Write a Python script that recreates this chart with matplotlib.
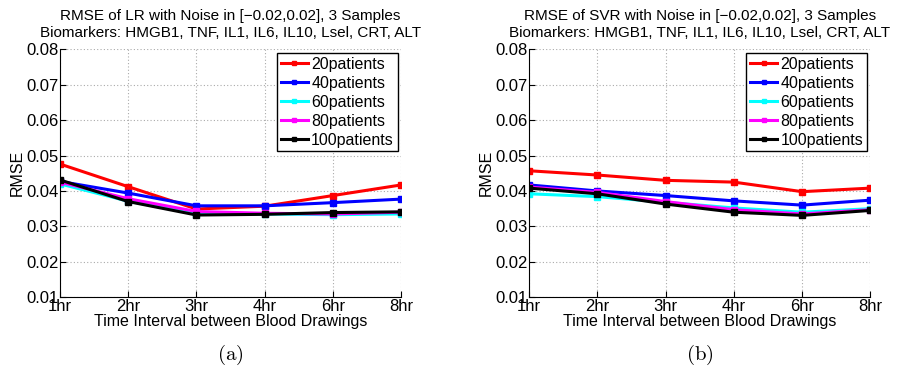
import numpy as np
import matplotlib.pyplot as plt

plt.rcParams['font.family'] = ['Liberation Sans', 'DejaVu Sans']
plt.rcParams['mathtext.fontset'] = 'cm'

hours = ['1hr', '2hr', '3hr', '4hr', '6hr', '8hr']
labels = ['20patients', '40patients', '60patients', '80patients', '100patients']
colors = ['#ff0000', '#0000ff', '#00ffff', '#ff00ff', '#000000']

# LR
lr_20 = [0.0476, 0.0412, 0.0349, 0.0357, 0.0387, 0.0417]
lr_40 = [0.0427, 0.0394, 0.0358, 0.0358, 0.0367, 0.0377]
lr_60 = [0.0420, 0.0371, 0.0335, 0.0335, 0.0333, 0.0335]
lr_80 = [0.0425, 0.0378, 0.0342, 0.0337, 0.0335, 0.0340]
lr_100 = [0.0431, 0.0370, 0.0332, 0.0334, 0.0339, 0.0341]

# SVR
svr_20 = [0.0457, 0.0445, 0.0430, 0.0425, 0.0398, 0.0408]
svr_40 = [0.0417, 0.0400, 0.0387, 0.0372, 0.0360, 0.0374]
svr_60 = [0.0392, 0.0384, 0.0368, 0.0352, 0.0340, 0.0350]
svr_80 = [0.0411, 0.0396, 0.0370, 0.0347, 0.0335, 0.0347]
svr_100 = [0.0408, 0.0392, 0.0363, 0.0340, 0.0331, 0.0345]

lr = [lr_20, lr_40, lr_60, lr_80, lr_100]
svr = [svr_20, svr_40, svr_60, svr_80, svr_100]

fig = plt.figure(figsize=(9, 3.71), dpi=100)
ax1 = fig.add_axes([0.0667, 0.199, 0.379, 0.668])
ax2 = fig.add_axes([0.588, 0.199, 0.379, 0.668])

titles = ['RMSE of LR with Noise in [\u22120.02,0.02], 3 Samples\n'
          'Biomarkers: HMGB1, TNF, IL1, IL6, IL10, Lsel, CRT, ALT',
          'RMSE of SVR with Noise in [\u22120.02,0.02], 3 Samples\n'
          'Biomarkers: HMGB1, TNF, IL1, IL6, IL10, Lsel, CRT, ALT']

x = np.arange(len(hours))
for ax, data, title, tag in zip([ax1, ax2], [lr, svr], titles, ['(a)', '(b)']):
    for vals, c, lab in zip(data, colors, labels):
        ax.plot(x, vals, '-s', color=c, lw=2.2, ms=5, label=lab)
    ax.set_xlim(0, len(hours) - 1)
    ax.set_ylim(0.01, 0.08)
    ax.set_xticks(x)
    ax.set_xticklabels(hours)
    ax.set_yticks(np.arange(0.01, 0.081, 0.01))
    ax.set_yticklabels(['%.2f' % v for v in np.arange(0.01, 0.081, 0.01)])
    ax.tick_params(direction='in', labelsize=12, length=4, pad=1)
    ax.spines['top'].set_visible(False)
    ax.spines['right'].set_visible(False)
    ax.grid(True, linestyle=(0, (1, 2)), color='#aaaaaa', lw=0.8)
    ax.set_title(title, fontsize=11, linespacing=1.3, pad=9)
    ax.set_ylabel('RMSE', fontsize=11.5, labelpad=1)
    ax.set_xlabel('Time Interval between Blood Drawings', fontsize=11.5, labelpad=0)
    leg = ax.legend(loc='upper right', fontsize=11.5, fancybox=False, framealpha=1,
                    edgecolor='black', handlelength=1.7, handletextpad=0.2,
                    labelspacing=0.25, borderpad=0.25, borderaxespad=0.2, markerscale=0.7)
    leg.get_frame().set_linewidth(1.0)
    ax.text(0.5, -0.235, '$\\mathrm{' + tag + '}$', transform=ax.transAxes,
            ha='center', va='center', fontsize=15)

fig.savefig('out.png', dpi=100)
